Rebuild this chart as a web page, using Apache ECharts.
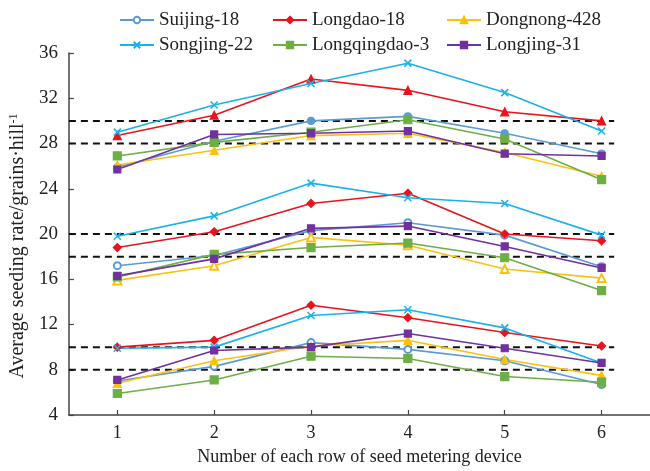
<!DOCTYPE html>
<html>
<head>
<meta charset="utf-8">
<script src="https://cdn.jsdelivr.net/npm/echarts@6/dist/echarts.min.js"></script>
<style>
html,body{margin:0;padding:0;background:#fff;}
#chart{width:650px;height:471px;}
</style>
</head>
<body>
<div id="chart"></div>
<script>
// ---- data ----
var rows = [1, 2, 3, 4, 5, 6];
var yTicks = [4, 8, 12, 16, 20, 24, 28, 32, 36];
var varieties = ['Suijing-18', 'Longdao-18', 'Dongnong-428', 'Songjing-22', 'Longqingdao-3', 'Longjing-31'];

var suijing18Low  = [7.0, 8.3, 10.4, 9.8, 8.8, 6.7];
var suijing18Mid  = [17.2, 18.1, 20.3, 21.0, 19.9, 17.1];
var suijing18High = [25.9, 28.2, 30.0, 30.4, 28.9, 27.1];

var longdao18Low  = [10.0, 10.6, 13.7, 12.6, 11.3, 10.1];
var longdao18Mid  = [18.8, 20.2, 22.7, 23.6, 20.0, 19.4];
var longdao18High = [28.7, 30.5, 33.7, 32.7, 30.8, 30.0];

var dongnong428Low  = [6.8, 8.8, 10.1, 10.6, 8.9, 7.5];
var dongnong428Mid  = [15.9, 17.2, 19.7, 19.0, 16.9, 16.1];
var dongnong428High = [26.1, 27.4, 28.7, 28.9, 27.2, 25.1];

var songjing22Low  = [9.9, 10.0, 12.8, 13.3, 11.7, 8.6];
var songjing22Mid  = [19.8, 21.6, 24.5, 23.2, 22.7, 19.9];
var songjing22High = [29.0, 31.4, 33.3, 35.1, 32.5, 29.1];

var longqingdao3Low  = [5.9, 7.1, 9.2, 9.0, 7.4, 6.9];
var longqingdao3Mid  = [16.2, 18.2, 18.8, 19.2, 17.9, 15.0];
var longqingdao3High = [26.9, 28.1, 29.0, 30.1, 28.4, 24.8];

var longjing31Low  = [7.1, 9.7, 10.0, 11.2, 9.9, 8.6];
var longjing31Mid  = [16.3, 17.8, 20.5, 20.7, 18.9, 17.0];
var longjing31High = [25.7, 28.8, 28.9, 29.1, 27.1, 26.9];

var referenceLevels = [30, 28, 20, 18, 10, 8];
var referenceXRange = [0.5, 6.13];

// ---- styles ----
var colors = {
  'Suijing-18': '#5b9bd5',
  'Longdao-18': '#e8141c',
  'Dongnong-428': '#fcc10f',
  'Songjing-22': '#19b2ea',
  'Longqingdao-3': '#6eae46',
  'Longjing-31': '#7131a1'
};
var X_PATH = 'path://M0,0L10,10M10,0L0,10';
var SQX_PATH = 'path://M0,0H10V10H0Z';
var symbols = {
  'Suijing-18':   ['emptyCircle', 'emptyCircle', 'circle'],
  'Longdao-18':   ['diamond', 'diamond', 'triangle'],
  'Dongnong-428': ['triangle', 'emptyTriangle', 'triangle'],
  'Songjing-22':  [X_PATH, X_PATH, X_PATH],
  'Longqingdao-3':['rect', 'rect', 'rect'],
  'Longjing-31':  [SQX_PATH, SQX_PATH, SQX_PATH]
};
var sizes = {
  'Suijing-18': 7, 'Longdao-18': 8, 'Dongnong-428': 8,
  'Songjing-22': 7, 'Longqingdao-3': 8, 'Longjing-31': 7
};
var groups = {
  'Suijing-18': [suijing18Low, suijing18Mid, suijing18High],
  'Longdao-18': [longdao18Low, longdao18Mid, longdao18High],
  'Dongnong-428': [dongnong428Low, dongnong428Mid, dongnong428High],
  'Songjing-22': [songjing22Low, songjing22Mid, songjing22High],
  'Longqingdao-3': [longqingdao3Low, longqingdao3Mid, longqingdao3High],
  'Longjing-31': [longjing31Low, longjing31Mid, longjing31High]
};

var FONT = '"Liberation Serif", "Times New Roman", serif';
var series = [];

// dashed reference lines
referenceLevels.forEach(function (lv) {
  series.push({
    type: 'line',
    data: [[referenceXRange[0], lv], [referenceXRange[1], lv]],
    symbol: 'none',
    silent: true,
    z: 1,
    lineStyle: { color: '#111', width: 2, type: [7, 5] }
  });
});

for (var g = 0; g < 3; g++) {
  varieties.forEach(function (name) {
    var c = colors[name];
    var vals = groups[name][g];
    var sym = symbols[name][g];
    var isX = sym === X_PATH;
    series.push({
      name: name,
      type: 'line',
      z: 3,
      data: rows.map(function (r, i) { return [r, vals[i]]; }),
      symbol: sym,
      symbolSize: sizes[name],
      showAllSymbol: true,
      lineStyle: { color: c, width: 1.6 },
      itemStyle: {
        color: c,
        borderColor: c,
        borderWidth: isX ? 1.6 : 1.2
      }
    });
  });
}

// legends positioned like the reference (2 rows x 3 columns)
var legendPos = [
  [119, 10], [272, 10], [446, 10],
  [119, 35], [272, 35], [446, 35]
];
var legends = varieties.map(function (name, i) {
  return {
    data: [name],
    left: legendPos[i][0],
    top: legendPos[i][1],
    padding: 0,
    itemWidth: 34,
    itemHeight: 8,
    itemGap: 0,
    selectedMode: false,
    textStyle: { fontFamily: FONT, fontSize: 19, color: '#222', lineHeight: 20, padding: [0, 0, 0, 0] }
  };
});

var chart = echarts.init(document.getElementById('chart'), null, { renderer: 'canvas' });
chart.setOption({
  animation: false,
  backgroundColor: '#fff',
  legend: legends,
  grid: { left: 66, right: 0, top: 53, bottom: 52, containLabel: false },
  xAxis: {
    type: 'value',
    min: 0.5,
    max: 6.5,
    name: 'Number of each row of seed metering device',
    nameLocation: 'middle',
    nameGap: 33,
    nameTextStyle: { fontFamily: FONT, fontSize: 18, color: '#222' },
    axisLine: { lineStyle: { color: '#444', width: 1.5 } },
    axisTick: { inside: true, length: 5, customValues: rows, lineStyle: { color: '#444', width: 1.2 } },
    axisLabel: { customValues: rows, fontFamily: FONT, fontSize: 18, color: '#222', margin: 9 },
    splitLine: { show: false }
  },
  yAxis: {
    type: 'value',
    min: yTicks[0],
    max: yTicks[yTicks.length - 1],
    interval: 4,
    name: '{n|Average seeding rate/grains·hill}{s|-1}',
    nameLocation: 'middle',
    nameGap: 38,
    nameRotate: 90,
    nameTextStyle: {
      fontFamily: FONT, fontSize: 20, color: '#222',
      padding: [0, 24, 0, 0],
      rich: {
        n: { fontFamily: FONT, fontSize: 20, color: '#222' },
        s: { fontFamily: FONT, fontSize: 12, color: '#222', verticalAlign: 'top', padding: [0, 0, 8, 0] }
      }
    },
    axisLine: { show: true, lineStyle: { color: '#444', width: 1.5 } },
    axisTick: { show: true, inside: true, length: 5, lineStyle: { color: '#444', width: 1.2 } },
    axisLabel: { fontFamily: FONT, fontSize: 19, color: '#222', margin: 11 },
    splitLine: { show: false }
  },
  series: series
});
</script>
</body>
</html>
